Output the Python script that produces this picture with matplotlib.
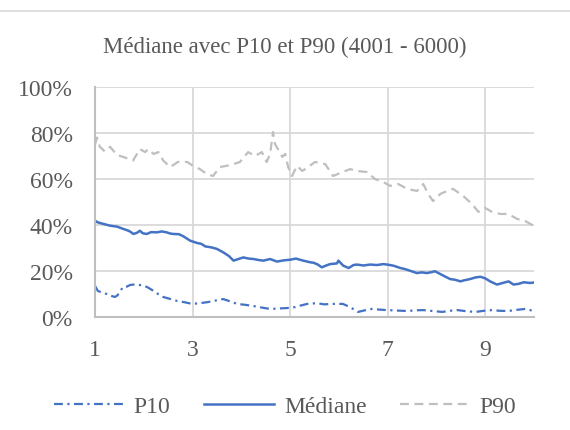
import matplotlib
matplotlib.use("Agg")
import matplotlib.pyplot as plt
from matplotlib.lines import Line2D

plt.rcParams['font.family'] = ['Liberation Serif', 'DejaVu Serif']

TITLE = "Médiane avec P10 et P90 (4001 - 6000)"
X_TICKS = [1, 3, 5, 7, 9]
Y_TICKS = [0, 20, 40, 60, 80, 100]

# Médiane
med_x = [1.00, 1.05, 1.15, 1.31, 1.45, 1.58, 1.70, 1.79, 1.86, 1.92, 1.98, 2.06, 2.15,
         2.27, 2.37, 2.47, 2.54, 2.61, 2.72, 2.81, 2.95, 3.09, 3.18, 3.26, 3.38, 3.50,
         3.63, 3.74, 3.84, 3.94, 4.04, 4.15, 4.25, 4.35, 4.45, 4.59, 4.73, 4.86, 5.00,
         5.12, 5.27, 5.41, 5.48, 5.56, 5.65, 5.74, 5.82, 5.96, 5.99, 6.09, 6.20, 6.30,
         6.37, 6.50, 6.64, 6.78, 6.91, 7.02, 7.12, 7.26, 7.36, 7.46, 7.60, 7.70, 7.80,
         7.90, 7.97, 8.05, 8.14, 8.28, 8.38, 8.49, 8.58, 8.69, 8.80, 8.90, 9.00, 9.10,
         9.24, 9.36, 9.48, 9.58, 9.68, 9.79, 9.92, 10.00]
med_y = [41.9, 41.2, 40.6, 39.7, 39.3, 38.3, 37.4, 36.1, 36.6, 37.5, 36.4, 36.1, 36.9,
         36.8, 37.2, 36.8, 36.3, 36.1, 36.0, 35.1, 33.2, 32.2, 31.8, 30.7, 30.3, 29.6,
         28.1, 26.6, 24.5, 25.2, 25.9, 25.4, 25.2, 24.8, 24.5, 25.2, 24.1, 24.6, 24.9,
         25.4, 24.5, 23.8, 23.6, 22.9, 21.6, 22.4, 23.0, 23.3, 24.5, 22.3, 21.3, 22.6,
         22.8, 22.4, 22.8, 22.6, 23.0, 22.7, 22.3, 21.3, 20.8, 20.1, 19.1, 19.4, 19.1,
         19.5, 19.9, 19.0, 18.0, 16.5, 16.2, 15.5, 16.0, 16.5, 17.2, 17.5, 16.8, 15.5,
         14.1, 14.8, 15.5, 14.1, 14.4, 15.1, 14.8, 15.0]

# P10
p10_x = [1.00, 1.06, 1.15, 1.24, 1.33, 1.41, 1.46, 1.51, 1.57, 1.65, 1.72, 1.82, 1.92,
         2.00, 2.07, 2.15, 2.23, 2.32, 2.40, 2.55, 2.68, 2.84, 2.99, 3.15, 3.32, 3.48,
         3.63, 3.77, 3.91, 4.08, 4.24, 4.42, 4.59, 4.77, 4.94, 5.10, 5.22, 5.35, 5.55,
         5.70, 5.86, 6.08, 6.23, 6.39, 6.53, 6.68, 6.84, 6.99, 7.20, 7.40, 7.57, 7.73,
         7.93, 8.12, 8.27, 8.43, 8.62, 8.80, 8.97, 9.14, 9.30, 9.47, 9.64, 9.82, 10.00]
p10_y = [13.5, 11.3, 10.6, 10.0, 9.2, 8.7, 9.4, 10.9, 13.0, 13.2, 13.9, 14.2, 13.9,
         13.6, 13.0, 12.0, 10.9, 9.6, 8.7, 7.8, 7.0, 6.4, 5.7, 6.0, 6.5, 7.2,
         7.8, 6.8, 5.7, 5.3, 4.8, 4.1, 3.5, 3.7, 3.9, 4.3, 5.0, 5.7, 6.0,
         5.5, 5.7, 5.7, 4.3, 2.2, 2.9, 3.5, 3.2, 3.0, 2.8, 2.6, 2.9, 3.0,
         2.6, 2.2, 2.7, 3.0, 2.5, 2.2, 2.7, 3.0, 2.7, 2.6, 3.1, 3.5, 2.6]

# P90
p90_x = [1.00, 1.04, 1.10, 1.20, 1.31, 1.45, 1.58, 1.78, 1.92, 2.03, 2.09, 2.20, 2.30,
         2.40, 2.54, 2.70, 2.89, 3.01, 3.15, 3.29, 3.42, 3.56, 3.77, 3.97, 4.14, 4.28,
         4.42, 4.52, 4.59, 4.65, 4.69, 4.75, 4.84, 4.90, 4.96, 5.04, 5.14, 5.25, 5.37,
         5.51, 5.72, 5.88, 6.07, 6.23, 6.37, 6.58, 6.74, 6.91, 7.05, 7.22, 7.40, 7.60,
         7.73, 7.83, 7.93, 8.08, 8.22, 8.34, 8.55, 8.73, 8.86, 9.00, 9.14, 9.31, 9.47,
         9.66, 9.82, 10.00]
p90_y = [75.0, 78.0, 74.0, 72.0, 74.0, 70.4, 69.6, 68.0, 73.0, 71.7, 73.0, 70.9, 71.7,
         68.0, 65.2, 67.4, 67.4, 65.7, 64.3, 62.2, 61.3, 65.2, 66.0, 67.4, 71.7, 70.0,
         71.7, 67.4, 70.9, 80.4, 75.2, 73.0, 69.6, 70.9, 65.2, 61.3, 65.7, 63.5, 65.2,
         67.4, 66.5, 61.3, 63.0, 64.3, 63.5, 63.0, 60.0, 58.7, 57.0, 57.8, 55.7, 54.8,
         57.8, 53.5, 50.4, 53.5, 54.8, 55.7, 52.6, 49.1, 45.7, 47.4, 45.7, 44.8, 44.8,
         42.6, 41.7, 39.6]

BLUE = "#4472C4"
GRAY = "#BFBFBF"
GRID = "#D9D9D9"
TEXT = "#595959"

fig = plt.figure(figsize=(5.70, 4.31), dpi=100)
ax = fig.add_axes([95 / 570, 113 / 431, 439 / 570, 230 / 431])

ax.plot(p10_x, p10_y, color=BLUE, lw=1.6, linestyle=(0, (4, 2, 1, 2)), label="P10")
ax.plot(med_x, med_y, color=BLUE, lw=1.8, linestyle="-", label="Médiane")
ax.plot(p90_x, p90_y, color=GRAY, lw=1.6, linestyle=(0, (4, 2.5)), label="P90")

ax.set_xlim(1, 10)
ax.set_ylim(0, 100)
ax.set_xticks(X_TICKS)
ax.set_xticklabels([str(v) for v in X_TICKS])
ax.set_yticks(Y_TICKS)
ax.set_yticklabels([f"{v}%" for v in Y_TICKS])

ax.grid(True, color=GRID, lw=1.3)
ax.set_axisbelow(True)
for side in ("top", "right"):
    ax.spines[side].set_visible(False)
for side in ("left", "bottom"):
    ax.spines[side].set_color(GRAY)
    ax.spines[side].set_linewidth(1.5)

ax.tick_params(axis="both", length=0, labelsize=17, labelcolor=TEXT)
ax.tick_params(axis="x", pad=16)
ax.tick_params(axis="y", pad=16)

fig.text(0.5, (431 - 47) / 431, TITLE, ha="center", va="center",
         fontsize=16.5, color=TEXT)

# top border of the chart area
fig.add_artist(Line2D([0, 1], [(431 - 11.5) / 431] * 2, color=GRID, lw=1.2,
                      transform=fig.transFigure))

fig.legend(loc="center", bbox_to_anchor=(0.5, (431 - 407) / 431), ncol=3,
           frameon=False, fontsize=17, labelcolor=TEXT, handlelength=3.0,
           handletextpad=0.4, columnspacing=1.4)

fig.savefig("out.png", dpi=100)
